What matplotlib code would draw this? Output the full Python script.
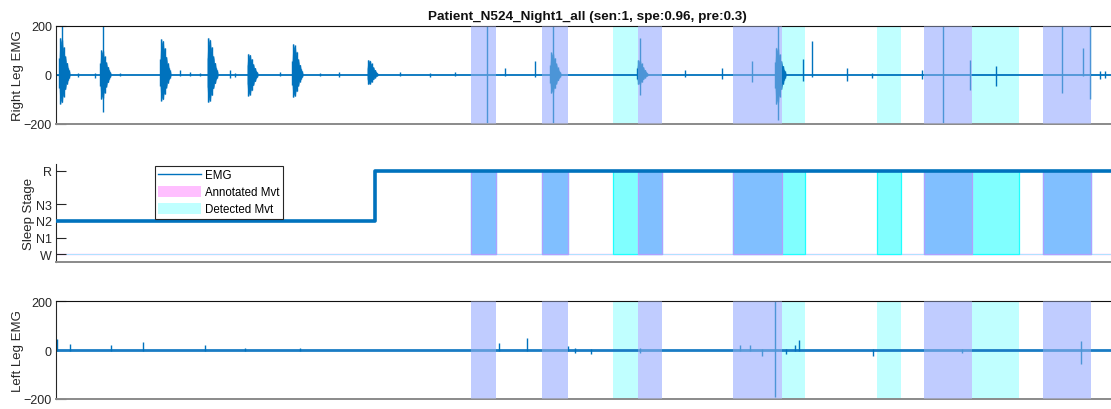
import numpy as np
import matplotlib
matplotlib.use("Agg")
import matplotlib.pyplot as plt
from matplotlib.patches import Patch
from matplotlib.lines import Line2D

plt.rcParams['font.family'] = ['Liberation Sans', 'DejaVu Sans']

# x axis in 30 s epochs
n_epochs = 960

# hypnogram (W=0, N1=1, N2=2, N3=3, R=5)
stage_change = [0, 288, 960]
stage_value = [2, 5]
stage_ticks = [0, 1, 2, 3, 5]
stage_labels = ["W", "N1", "N2", "N3", "R"]

# movement intervals (epochs)
ann_start = [375, 439, 526, 611, 784, 891]
ann_end = [397, 462, 547, 656, 827, 935]
det_start = [375, 439, 503, 611, 741, 784, 891]
det_end = [397, 462, 547, 676, 763, 870, 935]

# right leg EMG: bursts (centre, upper, lower)
r_burst_x = [5.4, 42.4, 96.6, 139.1, 175.2, 215.8, 283.6, 448.8, 527.4, 652.0]
r_burst_hi = [150, 100, 145, 150, 85, 125, 60, 90, 60, 110]
r_burst_lo = [-120, -100, -107, -113, -87, -92, -40, -75, -40, -120]
# right leg EMG: single spikes (position, upper, lower)
r_spike_x = [5.4, 42.4, 19.9, 35.2, 57.8, 112, 121, 130, 157, 162, 202, 238, 256, 311,
             338, 360, 389.2, 405.5, 432.6, 448.8, 527.4, 568.1, 601.5, 628.5, 652.0,
             674.6, 682.7, 714.3, 736.9, 782.1, 801.1, 825.5, 848.9, 908.5, 927.5,
             933.8, 943, 947]
r_spike_hi = [200, 200, 5, 5, 8, 20, 12, 8, 20, 5, 10, 8, 10, 10,
              8, 10, 200, 25, 55, 200, 148, 20, 25, 55, 200,
              65, 135, 25, 5, 20, 200, 60, 35, 200, 110,
              200, 15, 15]
r_spike_lo = [-60, -155, -12, -15, -8, -5, -8, -5, -15, -12, -5, -8, -10, -8,
              -10, -8, -200, -5, -10, -200, -85, -10, -20, -30, -185,
              -25, -10, -25, -15, -20, -200, -65, -45, -76, -5,
              -100, -20, -15]

# left leg EMG: single spikes
l_spike_x = [0.9, 12.6, 49.7, 78.6, 134.6, 170.7, 220.4, 400.1, 425.4, 462.4, 468.7,
             483.2, 527, 617.7, 626.8, 637.6, 649.3, 659.3, 667.4, 671.0, 737.8,
             818, 925.7]
l_spike_hi = [45, 25, 20, 35, 20, 10, 10, 30, 50, 15, 10,
              5, 10, 20, 20, 5, 200, 5, 20, 40, 5,
              5, 39]
l_spike_lo = [-5, -5, -3, -3, -3, -3, -3, -5, -5, -5, -10,
              -15, -10, -5, -5, -25, -190, -15, -5, -5, -25,
              -10, -56]

emg_color = "#0072BD"
axis_color = "#262626"
burst_shape = [0.45, 1.0, 0.8, 0.95, 0.65, 0.75, 0.45, 0.5, 0.3, 0.32, 0.18, 0.12, 0.06]
burst_width = 9

fig = plt.figure(figsize=(11.11, 4.10), dpi=100)
left = 56 / 1111
width = 1063 / 1111
ax_r = fig.add_axes([left, 1 - 124.5 / 410, width, 98 / 410])
ax_s = fig.add_axes([left, 1 - 262.7 / 410, width, 97.7 / 410])
ax_l = fig.add_axes([left, 1 - 400 / 410, width, 97.7 / 410])


def draw_emg(ax, bx, bhi, blo, sx, shi, slo, base_lw, base_color):
    ax.plot([0, n_epochs], [0, 0], color=base_color, lw=base_lw, zorder=2)
    for c, hi, lo in zip(bx, bhi, blo):
        xs = np.linspace(c - burst_width * 0.25, c + burst_width * 0.75, len(burst_shape))
        env = np.array(burst_shape)
        ax.fill_between(xs, lo * env, hi * env, color=emg_color, lw=0.5, alpha=0.85, zorder=2)
        ax.vlines(xs, lo * env, hi * env, color=emg_color, lw=1.0, zorder=2)
    ax.vlines(sx, slo, shi, color=emg_color, lw=1.0, zorder=2)


def shade_emg(ax):
    for a, b in zip(det_start, det_end):
        ax.axvspan(a, b, color="#C0FFFF", lw=0, zorder=1)
    for a, b in zip(ann_start, ann_end):
        ax.axvspan(a, b, color="#C0CCFF", lw=0, zorder=1.5)
        # translucent layer over the trace, as in the original
        ax.axvspan(a, b, color="#C0CCFF", lw=0, alpha=0.4, zorder=3)


def style_axis(ax, top_spine=True):
    ax.set_xlim(0, n_epochs)
    ax.set_xticks([])
    ax.spines['right'].set_visible(False)
    ax.spines['top'].set_visible(top_spine)
    ax.spines['top'].set_color("#111111")
    ax.spines['left'].set_color(axis_color)
    ax.spines['bottom'].set_color("#8a8a8a")
    ax.spines['bottom'].set_linewidth(1.4)
    ax.tick_params(axis='y', direction='in', length=7.5, width=0.8, colors=axis_color,
                   labelsize=9, pad=3)


# right leg
draw_emg(ax_r, r_burst_x, r_burst_hi, r_burst_lo, r_spike_x, r_spike_hi, r_spike_lo,
         1.3, emg_color)
shade_emg(ax_r)
ax_r.set_ylim(-200, 200)
ax_r.set_yticks([-200, 0, 200])
style_axis(ax_r)
ax_r.set_ylabel("Right Leg EMG", fontsize=9.5, color=axis_color)
ax_r.yaxis.set_label_coords(-0.030, 0.5)
ax_r.set_title("Patient_N524_Night1_all (sen:1, spe:0.96, pre:0.3)", fontsize=9.7,
               fontweight='bold', color="#111111", pad=5)

# sleep stage
ax_s.plot([0, n_epochs], [0, 0], color="#FF99FF", lw=1.0, alpha=0.7, zorder=1)
ax_s.plot([0, n_epochs], [0.04, 0.04], color="#80FFFF", lw=0.8, alpha=0.6, zorder=1)
for a, b in zip(det_start, det_end):
    ax_s.fill_between([a, b], 0, 5, facecolor="#80FFFF", edgecolor="#20FFFF", lw=0.9, zorder=2)
for a, b in zip(ann_start, ann_end):
    ax_s.fill_between([a, b], 0, 5, facecolor="#80BFFF", edgecolor="#B0A0FF", lw=0.9, zorder=3)
ax_s.step(stage_change, stage_value + [stage_value[-1]], where='post', color=emg_color,
          lw=2.6, zorder=5)
ax_s.set_ylim(-0.45, 5.42)
ax_s.set_yticks(stage_ticks)
ax_s.set_yticklabels(stage_labels)
style_axis(ax_s, top_spine=False)
ax_s.set_ylabel("Sleep Stage", fontsize=9.5, color=axis_color)
ax_s.yaxis.set_label_coords(-0.020, 0.5)

handles = [Line2D([], [], color=emg_color, lw=1.0),
           Patch(facecolor="#FFBFFF", edgecolor="none"),
           Patch(facecolor="#BFFFFF", edgecolor="none")]
leg = ax_s.legend(handles, ["EMG", "Annotated Mvt", "Detected Mvt"], loc="upper left",
                  bbox_to_anchor=(155 / 1111, 1 - 166.5 / 410), bbox_transform=fig.transFigure,
                  borderaxespad=0, fancybox=False, framealpha=1, edgecolor=axis_color,
                  fontsize=8.3, handlelength=3.7, handleheight=1.05, handletextpad=0.3,
                  labelspacing=0.42, borderpad=0.3)
leg.get_frame().set_linewidth(0.8)
leg.set_zorder(10)

# left leg
draw_emg(ax_l, [], [], [], l_spike_x, l_spike_hi, l_spike_lo, 2.0, "#1a7cc4")
shade_emg(ax_l)
ax_l.set_ylim(-200, 200)
ax_l.set_yticks([-200, 0, 200])
style_axis(ax_l)
ax_l.set_ylabel("Left Leg EMG", fontsize=9.5, color=axis_color)
ax_l.yaxis.set_label_coords(-0.030, 0.5)

fig.savefig("out.png", dpi=100)
